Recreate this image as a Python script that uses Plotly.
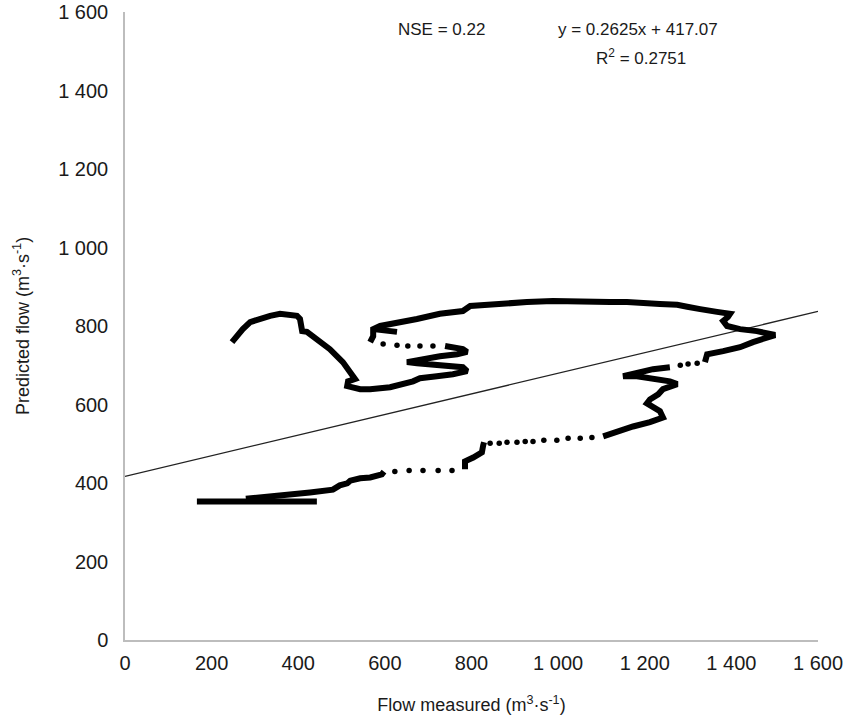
import plotly.graph_objects as go

# ---- data (measured flow x, predicted flow y), m3/s ----
# dense (continuous-looking) stretches of the path
low_x = [166, 443]
low_y = [353, 353]

rise1_x = [279, 365, 427, 480, 496, 513, 520, 543, 566, 593, 598]
rise1_y = [360, 368, 376, 383, 394, 399, 406, 412, 414, 422, 429]

rise2_x = [785, 785, 804, 824, 827, 829]
rise2_y = [435, 455, 465, 478, 496, 504]

rise3_x = [1104, 1136, 1173, 1212, 1242, 1235, 1212, 1205, 1212, 1231, 1242, 1265, 1275,
           1258, 1219, 1182, 1150, 1182, 1219, 1258]
rise3_y = [519, 532, 544, 555, 567, 583, 596, 603, 613, 626, 639, 647, 652,
           659, 667, 672, 672, 682, 690, 695]

top_x = [1339, 1344, 1381, 1420, 1450, 1482, 1501, 1459, 1420, 1390, 1381, 1392, 1397,
         1367, 1351, 1328, 1298, 1275, 1235, 1196, 1159, 1120, 1058, 988, 928, 859, 797,
         780, 727, 674, 628, 589, 573, 573, 566]
top_y = [708, 728, 736, 746, 759, 772, 777, 787, 792, 800, 813, 823, 831,
         836, 838, 843, 849, 854, 856, 859, 861, 861, 864, 864, 861, 856, 851,
         838, 831, 818, 810, 800, 792, 774, 759]

spur_x = [573, 628]
spur_y = [792, 785]

fall_x = [739, 750, 780, 790, 767, 727, 681, 651, 674, 704, 743, 780, 790, 757, 720, 681,
          665, 642, 612, 566, 543, 513, 515, 531, 520, 503, 473, 443, 420, 409, 404, 397,
          374, 358, 335, 312, 289, 272, 259, 247]
fall_y = [749, 746, 741, 734, 728, 723, 716, 708, 705, 703, 698, 695, 685, 677, 672, 667,
          659, 652, 644, 639, 639, 647, 659, 665, 682, 708, 741, 767, 785, 787, 818, 826,
          828, 831, 826, 818, 810, 792, 774, 759]

# sparse (individually visible) points
dots_x = [623, 656, 688, 723, 755,
          843, 864, 882, 905, 924, 942, 967, 997, 1023, 1051, 1078,
          1282, 1300, 1321,
          596, 628, 653, 681, 711]
dots_y = [429, 432, 432, 432, 432,
          501, 501, 504, 504, 506, 506, 509, 509, 514, 514, 516,
          700, 703, 705,
          754, 751, 749, 749, 749]

# trend line
slope = 0.2625
intercept = 417.07
trend_x = [0, 1600]

tick_vals = [0, 200, 400, 600, 800, 1000, 1200, 1400, 1600]
tick_text = ["0", "200", "400", "600", "800", "1 000", "1 200", "1 400", "1 600"]

FONT = "Liberation Sans, Arial, sans-serif"
TXT = "#1a1a1a"

dense_x, dense_y = [], []
for sx, sy in [(low_x, low_y), (rise1_x, rise1_y), (rise2_x, rise2_y), (rise3_x, rise3_y),
               (top_x, top_y), (spur_x, spur_y), (fall_x, fall_y)]:
    dense_x += sx + [None]
    dense_y += sy + [None]

fig = go.Figure()
fig.add_trace(go.Scatter(x=trend_x, y=[slope * v + intercept for v in trend_x],
                         mode="lines", line=dict(color="#222222", width=1.3),
                         showlegend=False, hoverinfo="skip"))
fig.add_trace(go.Scatter(x=dense_x, y=dense_y, mode="lines",
                         line=dict(color="black", width=6, shape="linear"),
                         connectgaps=False, showlegend=False))
fig.add_trace(go.Scatter(x=dots_x, y=dots_y, mode="markers",
                         marker=dict(color="black", size=5.5), showlegend=False))

axis_common = dict(
    range=[0, 1600], tickvals=tick_vals, ticktext=tick_text, automargin=False,
    showgrid=False, zeroline=False, showline=True, linecolor="#bdbdbd", linewidth=1.5,
    ticks="", tickfont=dict(family=FONT, size=20, color=TXT),
)

W, H = 850, 719
L, R, T, B = 125, 32, 12, 79

fig.update_layout(
    width=W, height=H,
    margin=dict(l=L, r=R, t=T, b=B),
    paper_bgcolor="white", plot_bgcolor="white",
    font=dict(family=FONT, color=TXT),
    xaxis=dict(**axis_common, ticklabelstandoff=4,
               title=dict(text="Flow measured (m<sup>3</sup>·s<sup>-1</sup>)",
                          font=dict(family=FONT, size=18, color=TXT), standoff=26)),
    yaxis=dict(**axis_common, ticklabelstandoff=11,
               title=dict(text="Predicted flow (m<sup>3</sup>·s<sup>-1</sup>)",
                          font=dict(family=FONT, size=18, color=TXT), standoff=24)),
)

# annotation anchors given in window pixels, converted to paper coordinates
ann_text = ["NSE = 0.22", "y = 0.2625x + 417.07", "R<sup>2</sup> = 0.2751"]
ann_px = [(441, 30), (638, 30), (641, 57)]
pw, ph = W - L - R, H - T - B
fig.update_layout(annotations=[
    dict(text=t, showarrow=False, xref="paper", yref="paper",
         x=(px - L) / pw, y=(H - B - py) / ph,
         xanchor="center", yanchor="middle",
         font=dict(family=FONT, size=17, color=TXT))
    for t, (px, py) in zip(ann_text, ann_px)
])

# remove the default page margin so the figure fills the window exactly
fig.write_html("out.html", config={"displayModeBar": False},
               post_script="document.body.style.margin='0';")
